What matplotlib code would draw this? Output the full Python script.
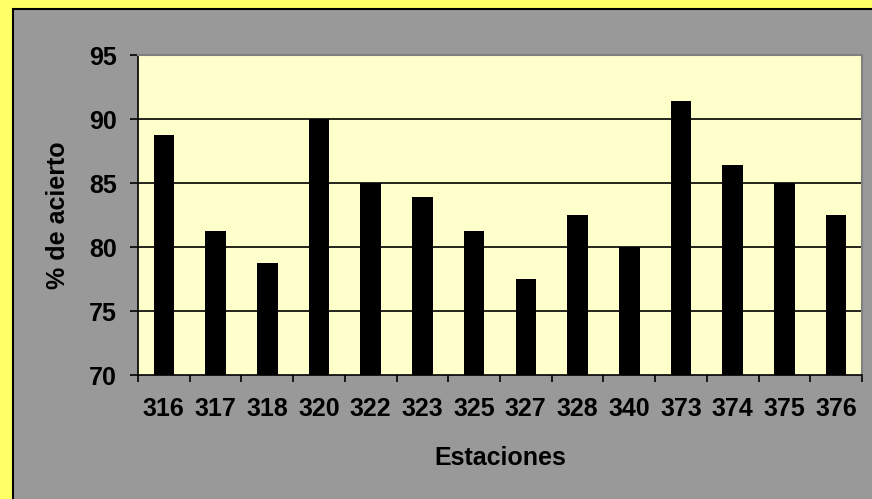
import matplotlib
matplotlib.use("Agg")
import matplotlib.pyplot as plt
from matplotlib.patches import Rectangle

# porcentaje de acierto por estación
estaciones = ["316", "317", "318", "320", "322", "323", "325",
              "327", "328", "340", "373", "374", "375", "376"]
acierto = [88.75, 81.25, 78.75, 90.0, 85.0, 83.9, 81.25,
           77.5, 82.5, 80.0, 91.4, 86.4, 85.0, 82.5]
yticks = [70, 75, 80, 85, 90, 95]

W, H = 872, 499
plt.rcParams["font.family"] = ["Liberation Sans", "DejaVu Sans"]
plt.rcParams["font.weight"] = "bold"

fig = plt.figure(figsize=(W / 100, H / 100), dpi=100)
fig.patch.set_facecolor("#FFFF66")

# panel gris del gráfico
panel = Rectangle((13 / W, -0.05), 1.1, 1 - 9 / H + 0.05, transform=fig.transFigure,
                  facecolor="#999999", edgecolor="black", linewidth=1.5, zorder=-1)
fig.patches.append(panel)

left, right, top, bottom = 138, 862, 55, 375
ax = fig.add_axes([left / W, 1 - bottom / H, (right - left) / W, (bottom - top) / H])
ax.set_zorder(1)
ax.set_facecolor("#FFFFCC")

x = list(range(len(estaciones)))
ax.bar(x, [v - yticks[0] for v in acierto], bottom=yticks[0], width=0.4,
       color="black", zorder=3)

ax.set_xlim(-0.5, len(estaciones) - 0.5)
ax.set_ylim(yticks[0], yticks[-1])
ax.set_yticks(yticks)
ax.set_yticklabels([str(t) for t in yticks])
for t in yticks[1:-1]:
    ax.axhline(t, color="black", linewidth=1.2, zorder=2)

# marcas entre categorías, etiquetas centradas
ax.set_xticks([i - 0.5 for i in range(len(estaciones) + 1)])
ax.set_xticklabels([])
ax.set_xticks(x, minor=True)
ax.set_xticklabels(estaciones, minor=True)
ax.tick_params(axis="x", which="major", direction="out", length=5, width=1.2)
ax.tick_params(axis="x", which="minor", length=0, pad=16, labelsize=18)
ax.tick_params(axis="y", direction="out", length=6, width=1.2, pad=9, labelsize=18)

for s in ("left", "bottom"):
    ax.spines[s].set_color("black")
    ax.spines[s].set_linewidth(1.2)
for s in ("top", "right"):
    ax.spines[s].set_color("#808080")
    ax.spines[s].set_linewidth(1.5)

fig.text(500 / W, 1 - 458 / H, "Estaciones", ha="center", va="center",
         fontsize=18, fontweight="bold")
fig.text(58 / W, 1 - 215 / H, "% de acierto", ha="center", va="center",
         rotation=90, fontsize=18, fontweight="bold")

fig.savefig("out.png", dpi=100, facecolor=fig.get_facecolor())
